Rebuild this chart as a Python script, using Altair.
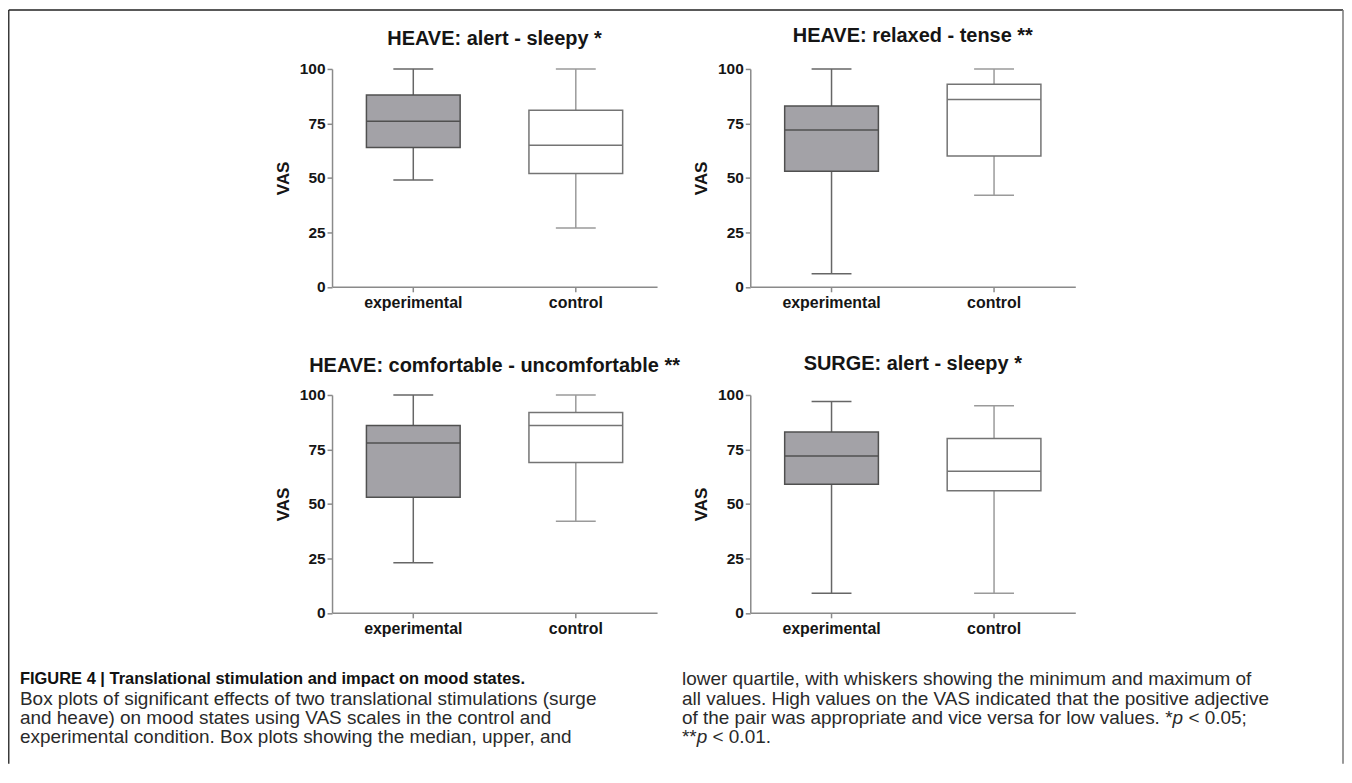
import altair as alt
import pandas as pd

# ---------------- data ----------------
panel_titles = [
    "HEAVE: alert - sleepy *",
    "HEAVE: relaxed - tense **",
    "HEAVE: comfortable - uncomfortable **",
    "SURGE: alert - sleepy *",
]
groups = ["experimental", "control"]
mins = [[49, 27], [6, 42], [23, 42], [9, 9]]
q1s = [[64, 52], [53, 60], [53, 69], [59, 56]]
medians = [[76, 65], [72, 86], [78, 86], [72, 65]]
q3s = [[88, 81], [83, 93], [86, 92], [83, 80]]
maxs = [[100, 100], [100, 100], [100, 100], [97, 95]]
y_ticks = [0, 25, 50, 75, 100]
y_title = "VAS"

caption_head = "FIGURE 4 | Translational stimulation and impact on mood states."
caption_left = [
    "Box plots of significant effects of two translational stimulations (surge",
    "and heave) on mood states using VAS scales in the control and",
    "experimental condition. Box plots showing the median, upper, and",
]
# each line as (text, italic) segments
caption_right = [
    [("lower quartile, with whiskers showing the minimum and maximum of", False)],
    [("all values. High values on the VAS indicated that the positive adjective", False)],
    [("of the pair was appropriate and vice versa for low values. *", False),
     ("p", True), (" < 0.05;", False)],
    [("**", False), ("p", True), (" < 0.01.", False)],
]

# ---------------- style ----------------
FONT = "Liberation Sans"
W, H = 326, 218.5
ROW_GAP, COL_GAP = 108, 93.5
AX = "#8a8a8a"
TXT = "#151515"
EXP_FILL, CTL_FILL = "#a3a2a7", "#ffffff"
EXP_STROKE, CTL_STROKE = "#505050", "#747474"
EXP_WHISK, CTL_WHISK = "#666666", "#9a9a9a"
BOX_W, CAP_W = 94, 40
TITLE_OFFSETS = [-2.5, 0.5, -3.5, -1.5]
CAP_SIZE = 19

# approximate advance widths of Liberation Sans (Arial metrics), per 1000 em
ADV = {" ": 278, "*": 389, ".": 278, ";": 278, ",": 278, "<": 584, "(": 333, ")": 333}
ADV.update({d: 556 for d in "0123456789"})
ADV.update(dict(zip("abcdefghijklmnopqrstuvwxyz",
                    [556, 556, 500, 556, 556, 278, 556, 556, 222, 222, 500, 222, 833,
                     556, 556, 556, 556, 333, 500, 278, 556, 500, 722, 500, 500, 500])))


def text_width(s, size):
    return sum(ADV.get(c, 600) for c in s) * size / 1000.0


is_exp = alt.datum.group == "experimental"


def Y(field):
    return alt.Y(
        field,
        type="quantitative",
        scale=alt.Scale(domain=[0, 100], nice=False),
        axis=alt.Axis(
            title=y_title, values=y_ticks, grid=False,
            labelFont=FONT, labelFontSize=15.5, labelFontWeight="bold", labelColor=TXT,
            labelPadding=2, tickSize=5, tickColor=AX, tickWidth=1.5,
            domainColor=AX, domainWidth=1.5,
            titleFont=FONT, titleFontSize=17, titleFontWeight="bold", titleColor=TXT,
            titlePadding=7,
        ),
    )


def panel(i):
    df = pd.DataFrame({
        "group": groups, "lo": mins[i], "q1": q1s[i], "med": medians[i],
        "q3": q3s[i], "hi": maxs[i],
    })
    x = alt.X(
        "group:N", sort=groups,
        scale=alt.Scale(domain=groups, paddingInner=0, paddingOuter=0),
        axis=alt.Axis(
            title=None, labelAngle=0, labelFont=FONT, labelFontSize=16,
            labelFontWeight="bold", labelColor=TXT, labelPadding=3,
            tickSize=5, tickColor=AX, tickWidth=1.5, domainColor=AX, domainWidth=1.5,
        ),
    )
    base = alt.Chart(df).encode(x=x)
    wcol = alt.condition(is_exp, alt.value(EXP_WHISK), alt.value(CTL_WHISK))
    scol = alt.condition(is_exp, alt.value(EXP_STROKE), alt.value(CTL_STROKE))
    fcol = alt.condition(is_exp, alt.value(EXP_FILL), alt.value(CTL_FILL))
    whisker = base.mark_rule(strokeWidth=1.5).encode(y=Y("lo"), y2="hi", color=wcol)
    cap_lo = base.mark_tick(size=CAP_W, thickness=1.5, opacity=1).encode(y=Y("lo"), color=wcol)
    cap_hi = base.mark_tick(size=CAP_W, thickness=1.5, opacity=1).encode(y=Y("hi"), color=wcol)
    box = base.mark_bar(size=BOX_W, strokeWidth=1.5).encode(
        y=Y("q1"), y2="q3", fill=fcol, stroke=scol)
    med = base.mark_tick(size=BOX_W, thickness=1.5, opacity=1).encode(y=Y("med"), color=scol)
    return alt.layer(whisker, cap_lo, cap_hi, box, med).properties(
        width=W, height=H,
        title=alt.TitleParams(
            text=panel_titles[i], font=FONT, fontSize=20, fontWeight="bold",
            color=TXT, anchor="middle", frame="group", baseline="alphabetic",
            offset=TITLE_OFFSETS[i],
        ),
    )


# ---------------- caption and frame (third row, anchored below the panels) ----------------
one = pd.DataFrame({"k": [0]})
OY = 2 * H + 2 * ROW_GAP          # origin of this cell relative to the first panel
FL, FT, FR, FB = -324.25, -60.25 - OY, 1014, 696 - OY
decor = [
    alt.Chart(one).mark_rule(color="#3a3a3a", strokeWidth=1.5).encode(
        x=alt.value(FL), y=alt.value(FT), y2=alt.value(FB)),
    alt.Chart(one).mark_rule(color="#222222", strokeWidth=1.5).encode(
        x=alt.value(FL), x2=alt.value(FR), y=alt.value(FT)),
    alt.Chart(one).mark_rule(color="#777777", strokeWidth=1.5).encode(
        x=alt.value(FR), y=alt.value(FT), y2=alt.value(FB)),
]
CAP_XL, CAP_XR = -313, 351
CAP_Y = [y - OY for y in (611, 630.5, 650, 669.5)]
decor.append(
    alt.Chart(one).mark_text(text=caption_head, align="left", baseline="middle",
                             font=FONT, fontSize=16.5, fontWeight="bold", color="#111111")
    .encode(x=alt.value(CAP_XL), y=alt.value(CAP_Y[0]))
)
for k, line in enumerate(caption_left):
    decor.append(
        alt.Chart(one).mark_text(text=line, align="left", baseline="middle",
                                 font=FONT, fontSize=CAP_SIZE, color="#2a2a2a")
        .encode(x=alt.value(CAP_XL), y=alt.value(CAP_Y[k + 1]))
    )
for k, segments in enumerate(caption_right):
    xpos = CAP_XR
    for seg, italic in segments:
        stripped = seg.lstrip(" ")
        lead = text_width(seg[: len(seg) - len(stripped)], CAP_SIZE)
        decor.append(
            alt.Chart(one).mark_text(text=stripped, align="left", baseline="middle",
                                     font=FONT, fontSize=CAP_SIZE, color="#2a2a2a",
                                     fontStyle="italic" if italic else "normal")
            .encode(x=alt.value(xpos + lead), y=alt.value(CAP_Y[k]))
        )
        xpos += text_width(seg, CAP_SIZE)
caption = alt.layer(*decor).properties(width=1, height=1)

chart = alt.concat(
    panel(0), panel(1), panel(2), panel(3), caption, columns=2,
    spacing={"row": ROW_GAP, "column": COL_GAP}, bounds="flush",
).properties(padding=0).configure_view(stroke=None)

chart.save("out.html", embed_options={"renderer": "svg", "actions": False})
